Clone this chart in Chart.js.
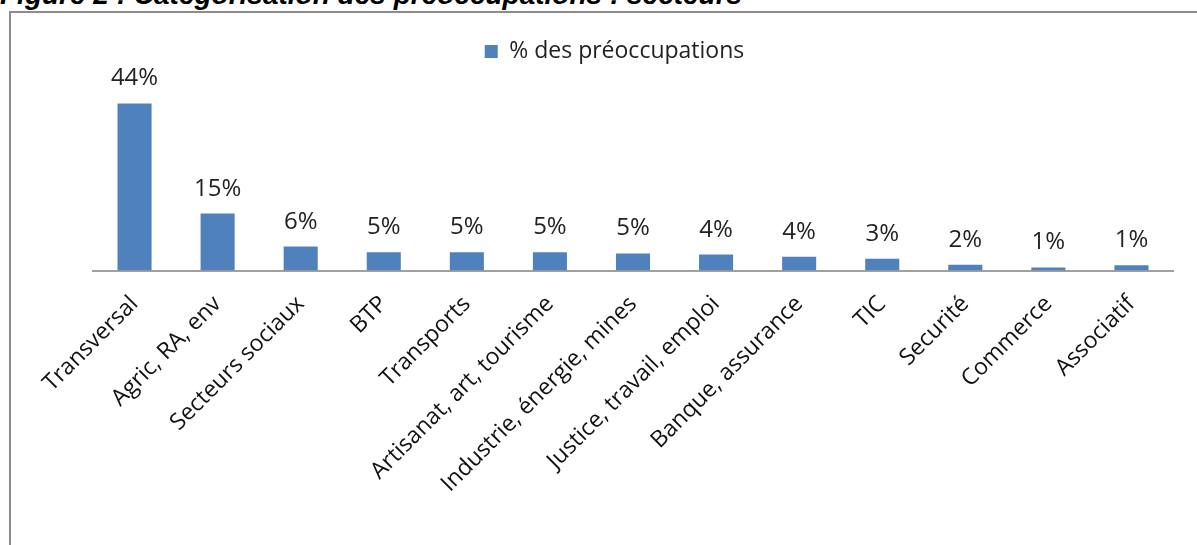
<!DOCTYPE html>
<html>
<head>
<meta charset="utf-8">
<script src="https://cdn.jsdelivr.net/npm/chart.js@4.4.1/dist/chart.umd.min.js"></script>
<style>
  html, body { margin: 0; padding: 0; background: #fff; overflow: hidden; }
  #wrap { position: relative; width: 1197px; height: 545px; overflow: hidden; }
  #title { position: absolute; left: 0; top: -19px; font: italic bold 28px "Liberation Sans", Arial, sans-serif; line-height: 28px; color: #000; white-space: nowrap; }
  #frame { position: absolute; left: 9px; top: 11px; width: 1400px; height: 1000px; border-left: 2px solid #8c8c8c; border-top: 2px solid #8c8c8c; }
  #c { position: absolute; left: 0; top: 0; }
</style>
</head>
<body>
<div id="wrap">
  <div id="title">Figure 2 : Catégorisation des préoccupations : secteurs</div>
  <div id="frame"></div>
  <canvas id="c" width="1197" height="545"></canvas>
</div>
<script>
const categories = ["Transversal", "Agric, RA, env", "Secteurs sociaux", "BTP", "Transports",
  "Artisanat, art, tourisme", "Industrie, énergie, mines", "Justice, travail, emploi",
  "Banque, assurance", "TIC", "Securité", "Commerce", "Associatif"];
const seriesName = "% des préoccupations";
const values = [44, 15, 6.3, 4.8, 4.8, 4.8, 4.5, 4.2, 3.6, 3.1, 1.5, 0.8, 1.4];

const FONT = "'Open Sans', Lato, sans-serif";

const dataLabels = {
  id: 'dataLabels',
  afterDatasetsDraw(chart) {
    const ctx = chart.ctx;
    const meta = chart.getDatasetMeta(0);
    ctx.save();
    ctx.font = "24px " + FONT;
    ctx.fillStyle = "#222";
    ctx.textAlign = "center";
    ctx.textBaseline = "alphabetic";
    meta.data.forEach((bar, i) => {
      ctx.fillText(Math.round(values[i]) + "%", bar.x, bar.y - 18);
    });
    ctx.restore();
  }
};

new Chart(document.getElementById('c'), {
  type: 'bar',
  data: {
    labels: categories,
    datasets: [{
      label: seriesName,
      data: values,
      backgroundColor: '#4F81BD',
      borderWidth: 0,
      barPercentage: 0.41,
      categoryPercentage: 1
    }]
  },
  options: {
    responsive: false,
    devicePixelRatio: 1,
    animation: false,
    layout: { padding: { left: 56, right: 24, top: 30, bottom: 0 } },
    plugins: {
      legend: {
        display: true,
        position: 'top',
        labels: {
          boxWidth: 13, boxHeight: 13, padding: 10,
          color: '#222',
          font: { family: FONT, size: 23 }
        }
      },
      tooltip: { enabled: false }
    },
    scales: {
      x: {
        grid: { display: false },
        border: { display: true, color: '#a0a0a0', width: 2 },
        ticks: {
          autoSkip: false, maxRotation: 45, minRotation: 45,
          color: '#111', padding: 12,
          font: { family: FONT, size: 23 }
        },
        afterFit(scale) { scale.height = 274.5; }
      },
      y: {
        min: 0, max: 52,
        display: true,
        grid: { display: false },
        border: { display: false },
        ticks: { display: false },
        afterFit(scale) { scale.width = 37; }
      }
    }
  },
  plugins: [dataLabels]
});
</script>
</body>
</html>
